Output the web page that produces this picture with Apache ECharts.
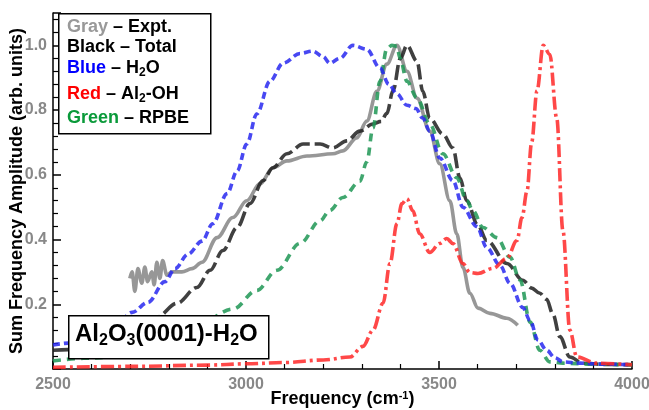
<!DOCTYPE html>
<html>
<head>
<meta charset="utf-8">
<script src="https://cdn.jsdelivr.net/npm/echarts@6/dist/echarts.min.js"></script>
<style>
  html, body { margin: 0; padding: 0; background: #fff; }
  #chart { width: 649px; height: 410px; }
</style>
</head>
<body>
<div id="chart"></div>
<script>
// series names, tick positions and curve data
var seriesNames = ['Expt.', 'Total', 'H2O', 'Al2-OH', 'RPBE'];
var xTicks = [2500, 3000, 3500, 4000];
var yTicks = [0.2, 0.4, 0.6, 0.8, 1.0];

var exptX = [2699, 2705, 2712, 2720, 2730, 2738, 2745, 2756, 2762, 2769, 2777, 2784, 2795, 2808, 2834, 2860, 2886, 2925, 2966, 3002, 3036, 3070, 3106, 3158, 3225, 3251, 3287, 3313, 3339, 3365, 3391, 3417, 3443, 3476, 3502, 3528, 3546, 3562, 3580, 3601, 3632, 3676, 3704];
var exptY = [0.28, 0.30, 0.24, 0.31, 0.265, 0.315, 0.27, 0.30, 0.26, 0.33, 0.28, 0.335, 0.29, 0.30, 0.30, 0.31, 0.33, 0.406, 0.468, 0.52, 0.572, 0.622, 0.643, 0.658, 0.665, 0.674, 0.714, 0.766, 0.858, 0.942, 1.0, 0.92, 0.837, 0.735, 0.634, 0.52, 0.418, 0.314, 0.234, 0.188, 0.172, 0.157, 0.135];

var totalX = [2500, 2540, 2600, 2660, 2720, 2769, 2821, 2873, 2907, 2940, 2977, 3010, 3044, 3070, 3106, 3148, 3192, 3225, 3261, 3295, 3329, 3350, 3365, 3381, 3400, 3417, 3443, 3458, 3476, 3510, 3536, 3554, 3572, 3600, 3624, 3676, 3717, 3740, 3760, 3779, 3795, 3813, 3839, 3873, 3930, 4000];
var totalY = [0.058, 0.06, 0.07, 0.09, 0.13, 0.16, 0.203, 0.252, 0.305, 0.366, 0.437, 0.511, 0.582, 0.622, 0.665, 0.695, 0.695, 0.683, 0.705, 0.735, 0.757, 0.765, 0.79, 0.86, 0.96, 1.0, 0.951, 0.858, 0.775, 0.726, 0.683, 0.591, 0.52, 0.445, 0.397, 0.326, 0.274, 0.25, 0.235, 0.215, 0.17, 0.10, 0.037, 0.018, 0.014, 0.013];

var h2oX = [2500, 2540, 2600, 2650, 2705, 2746, 2790, 2816, 2850, 2886, 2914, 2951, 2977, 3002, 3028, 3062, 3096, 3140, 3173, 3200, 3217, 3243, 3277, 3313, 3347, 3370, 3391, 3417, 3440, 3458, 3476, 3502, 3536, 3562, 3598, 3624, 3658, 3684, 3717, 3736, 3756, 3779, 3800, 3821, 3865, 3920, 4000];
var h2oY = [0.074, 0.08, 0.09, 0.11, 0.175, 0.206, 0.27, 0.31, 0.355, 0.395, 0.449, 0.542, 0.612, 0.695, 0.788, 0.889, 0.945, 0.975, 0.982, 0.965, 0.945, 0.96, 1.0, 0.988, 0.93, 0.88, 0.85, 0.815, 0.805, 0.775, 0.735, 0.652, 0.582, 0.50, 0.44, 0.375, 0.32, 0.265, 0.19, 0.15, 0.09, 0.058, 0.035, 0.022, 0.018, 0.015, 0.013];

var alohX = [2500, 2700, 2900, 3000, 3100, 3200, 3269, 3303, 3329, 3355, 3373, 3391, 3404, 3417, 3432, 3450, 3476, 3502, 3520, 3536, 3562, 3580, 3601, 3640, 3676, 3702, 3715, 3728, 3740, 3754, 3770, 3787, 3805, 3821, 3839, 3857, 3909, 4000];
var alohY = [0.005, 0.008, 0.012, 0.016, 0.02, 0.028, 0.037, 0.07, 0.12, 0.203, 0.326, 0.449, 0.511, 0.526, 0.489, 0.418, 0.36, 0.388, 0.403, 0.388, 0.326, 0.298, 0.295, 0.311, 0.342, 0.397, 0.468, 0.55, 0.70, 0.86, 1.0, 0.972, 0.775, 0.428, 0.12, 0.037, 0.018, 0.013];

var rpbeX = [2500, 2580, 2660, 2720, 2760, 2800, 2840, 2881, 2966, 3028, 3080, 3140, 3192, 3217, 3251, 3295, 3313, 3329, 3347, 3365, 3378, 3391, 3399, 3417, 3443, 3476, 3510, 3546, 3572, 3588, 3614, 3650, 3684, 3710, 3736, 3761, 3787, 3821, 3900, 4000];
var rpbeY = [0.025, 0.033, 0.037, 0.045, 0.065, 0.08, 0.11, 0.142, 0.185, 0.243, 0.305, 0.388, 0.458, 0.49, 0.53, 0.58, 0.64, 0.745, 0.889, 0.99, 1.0, 0.997, 0.96, 0.889, 0.837, 0.757, 0.665, 0.591, 0.52, 0.489, 0.437, 0.406, 0.345, 0.275, 0.145, 0.058, 0.022, 0.018, 0.015, 0.013];

function pairs(xs, ys) {
    return xs.map(function (x, i) { return [x, ys[i]]; });
}

(function () {
    var chart = echarts.init(document.getElementById('chart'), null, { renderer: 'canvas' });
    var font = 'Liberation Sans, Arial, sans-serif';

    function curve(name, xs, ys, color, dash, z) {
        return {
            name: name,
            type: 'line',
            data: pairs(xs, ys),
            showSymbol: false,
            smooth: 0.35,
            smoothMonotone: 'x',
            z: z,
            lineStyle: { color: color, width: 3.6, type: dash, cap: 'butt' }
        };
    }

    var sub = { fontSize: 12, fontWeight: 'bold', fontFamily: font, verticalAlign: 'bottom', lineHeight: 22 };
    function line(txt, y) {
        return {
            type: 'text', left: 67, top: y - 11, z: 101,
            style: {
                text: txt, fontFamily: font, fontSize: 18, fontWeight: 'bold',
                lineHeight: 22,
                rich: {
                    g: { fill: '#999999', fontSize: 18, fontWeight: 'bold', fontFamily: font, lineHeight: 22 },
                    k: { fill: '#000', fontSize: 18, fontWeight: 'bold', fontFamily: font, lineHeight: 22 },
                    b: { fill: '#0000ff', fontSize: 18, fontWeight: 'bold', fontFamily: font, lineHeight: 22 },
                    r: { fill: '#ff0000', fontSize: 18, fontWeight: 'bold', fontFamily: font, lineHeight: 22 },
                    n: { fill: '#0a9a3a', fontSize: 18, fontWeight: 'bold', fontFamily: font, lineHeight: 22 },
                    s: sub
                }
            }
        };
    }

    var option = {
        animation: false,
        backgroundColor: '#fff',
        grid: { left: 53, right: 17, top: 13, bottom: 41, outerBoundsMode: 'none' },
        xAxis: {
            type: 'value',
            min: xTicks[0], max: xTicks[xTicks.length - 1], interval: 500,
            name: 'Frequency (cm{sup|-1})',
            nameLocation: 'middle', nameGap: 21, nameMoveOverlap: false,
            nameTextStyle: {
                color: '#000', fontSize: 18, fontWeight: 'bold', fontFamily: font,
                rich: { sup: { fontSize: 11, fontWeight: 'bold', fontFamily: font, verticalAlign: 'top', color: '#000' } }
            },
            axisLine: { lineStyle: { color: '#000', width: 1.5 } },
            axisTick: { inside: true, length: 8, lineStyle: { color: '#000', width: 1.5 } },
            minorTick: { show: true, splitNumber: 5, length: 5, lineStyle: { color: '#000', width: 1.2 } },
            splitLine: { show: false },
            axisLabel: {
                color: '#888', fontSize: 16, fontWeight: 'bold', fontFamily: font, margin: 8,
                formatter: function (v) { return String(v); }
            }
        },
        yAxis: {
            type: 'value',
            min: 0, max: 1.1, interval: 0.2,
            name: 'Sum Frequency Amplitude (arb. units)',
            nameLocation: 'middle', nameGap: 27, nameMoveOverlap: false,
            nameTextStyle: { color: '#000', fontSize: 18, fontWeight: 'bold', fontFamily: font },
            axisLine: { lineStyle: { color: '#000', width: 1.5 } },
            axisTick: { inside: true, length: 8, lineStyle: { color: '#000', width: 1.5 } },
            minorTick: { show: true, splitNumber: 5, length: 5, lineStyle: { color: '#000', width: 1.2 } },
            splitLine: { show: false },
            axisLabel: {
                color: '#888', fontSize: 16, fontWeight: 'bold', fontFamily: font, margin: 6,
                formatter: function (v) {
                    return yTicks.some(function (t) { return Math.abs(t - v) < 1e-6; }) ? v.toFixed(1) : '';
                }
            }
        },
        series: [
            curve(seriesNames[0], exptX, exptY, 'rgba(140,140,140,0.9)', 'solid', 2),
            curve(seriesNames[1], totalX, totalY, 'rgba(30,30,30,0.85)', [15, 5], 3),
            curve(seriesNames[4], rpbeX, rpbeY, 'rgba(30,150,85,0.85)', [8, 6], 4),
            curve(seriesNames[2], h2oX, h2oY, 'rgba(40,40,240,0.85)', [7, 4], 5),
            curve(seriesNames[3], alohX, alohY, 'rgba(255,40,40,0.85)', [13, 4, 3, 4], 6)
        ],
        graphic: [
            { type: 'rect', left: 58, top: 13, z: 100, shape: { width: 152, height: 120 },
              style: { fill: '#fff', stroke: '#000', lineWidth: 1.5 } },
            line('{g|Gray} {k|– Expt.}', 27),
            line('{k|Black – Total}', 47),
            line('{b|Blue} {k|– H}{s|2}{k|O}', 68),
            line('{r|Red} {k|– Al}{s|2}{k|-OH}', 94),
            line('{n|Green} {k|– RPBE}', 118),
            { type: 'rect', left: 68, top: 315, z: 100, shape: { width: 200, height: 43 },
              style: { fill: '#fff', stroke: '#000', lineWidth: 1.5 } },
            { type: 'text', left: 75, top: 322, z: 101,
              style: {
                  text: '{m|Al}{s|2}{m|O}{s|3}{m|(0001)-H}{s|2}{m|O}',
                  rich: {
                      m: { fill: '#000', fontSize: 24, fontWeight: 'bold', fontFamily: font, lineHeight: 30 },
                      s: { fill: '#000', fontSize: 16, fontWeight: 'bold', fontFamily: font, lineHeight: 30, verticalAlign: 'bottom' }
                  }
              } }
        ]
    };
    chart.setOption(option);
})();
</script>
</body>
</html>
